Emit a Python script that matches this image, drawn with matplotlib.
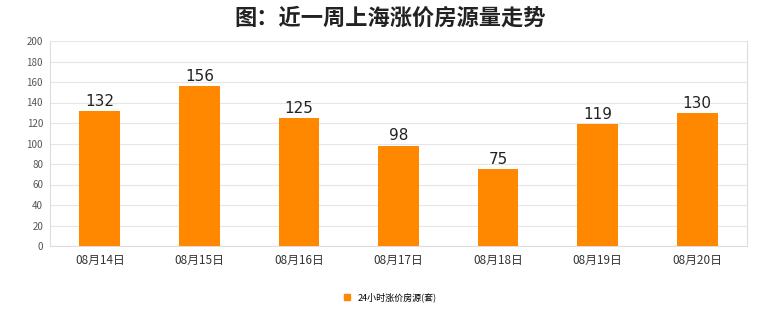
import matplotlib
matplotlib.use("Agg")
import matplotlib.pyplot as plt
from matplotlib.patches import Patch

plt.rcParams['font.family'] = ['Noto Sans CJK SC', 'DejaVu Sans']

categories = ["08月14日", "08月15日", "08月16日", "08月17日", "08月18日", "08月19日", "08月20日"]
values = [132, 156, 125, 98, 75, 119, 130]
yticks = [0, 20, 40, 60, 80, 100, 120, 140, 160, 180, 200]
title = "图：近一周上海涨价房源量走势"
series_name = "24小时涨价房源(套)"
bar_color = "#FF8800"

fig = plt.figure(figsize=(7.8, 3.28), dpi=100)
ax = fig.add_axes([50/780, 1-246/328, 697/780, 205/328])

x = list(range(len(categories)))
ax.bar(x, values, width=0.41, color=bar_color, zorder=3)
for xi, v in zip(x, values):
    ax.text(xi, v + 2, str(v), ha='center', va='bottom', fontsize=11, color='#222222',
            family=['DejaVu Sans'], zorder=4)

ax.set_xlim(-0.5, len(categories) - 0.5)
ax.set_ylim(0, 200)
ax.set_yticks(yticks)
ax.set_yticklabels([str(t) for t in yticks], fontsize=7, color='#555555')
ax.set_xticks(x)
ax.set_xticklabels(categories, fontsize=8.5, color='#333333')
ax.tick_params(axis='both', length=0, pad=5)
ax.tick_params(axis='x', pad=6)
ax.grid(axis='y', color='#e6e6e6', linewidth=0.8, zorder=0)
for s in ax.spines.values():
    s.set_color('#dddddd')
    s.set_linewidth(0.8)
ax.spines['top'].set_visible(False)

fig.text(0.5, 0.945, title, fontsize=16, fontweight='bold', ha='center', va='center', color='#222222')

fig.legend(handles=[Patch(color=bar_color, label=series_name)], loc='center',
           bbox_to_anchor=(0.5, 1-297/328), frameon=False, fontsize=6.5,
           handlelength=0.7, handleheight=0.7, handletextpad=0.8)

fig.savefig("out.png", dpi=100, facecolor='white')
